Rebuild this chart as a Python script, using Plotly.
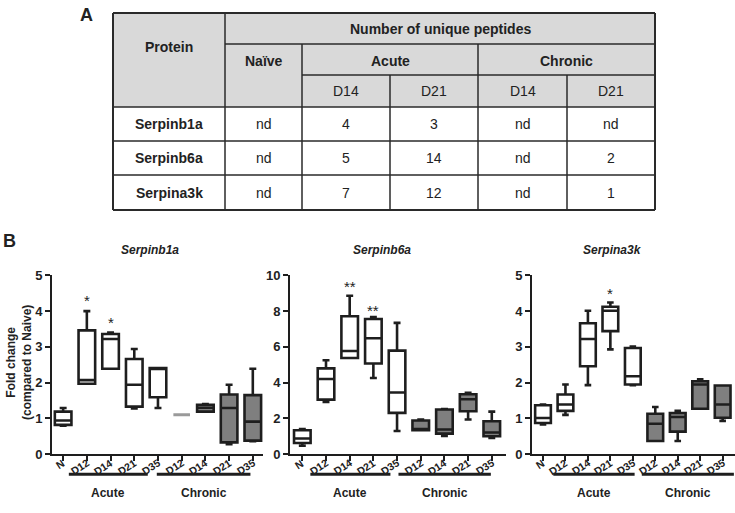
import plotly.graph_objects as go

# ---------------- DATA ----------------
# Panel A table
table_proteins = ["Serpinb1a", "Serpinb6a", "Serpina3k"]
table_naive = ["nd", "nd", "nd"]
table_acute_d14 = ["4", "5", "7"]
table_acute_d21 = ["3", "14", "12"]
table_chronic_d14 = ["nd", "nd", "nd"]
table_chronic_d21 = ["nd", "2", "1"]
table_title = "Number of unique peptides"
table_groups = ["Acute", "Chronic"]
table_days = ["D14", "D21", "D14", "D21"]

# Panel B box plots
categories = ["N", "D12", "D14", "D21", "D35", "D12", "D14", "D21", "D35"]
groups = ["naive", "acute", "acute", "acute", "acute", "chronic", "chronic", "chronic", "chronic"]
panel_titles = ["Serpinb1a", "Serpinb6a", "Serpina3k"]

serpinb1a_low = [0.80, 1.97, 2.39, 1.28, 1.29, 1.10, 1.19, 0.28, 0.36]
serpinb1a_q1 = [0.82, 1.97, 2.39, 1.33, 1.59, 1.10, 1.19, 0.33, 0.38]
serpinb1a_med = [0.94, 2.07, 3.22, 1.94, 2.41, 1.10, 1.30, 1.29, 0.91]
serpinb1a_q3 = [1.19, 3.46, 3.36, 2.66, 2.41, 1.10, 1.38, 1.67, 1.65]
serpinb1a_high = [1.29, 4.00, 3.40, 2.94, 2.41, 1.10, 1.40, 1.94, 2.39]

serpinb6a_low = [0.47, 2.92, 5.38, 4.26, 1.30, 1.34, 1.02, 1.94, 0.91]
serpinb6a_q1 = [0.63, 3.05, 5.38, 5.07, 2.31, 1.34, 1.15, 2.40, 1.00]
serpinb6a_med = [0.88, 4.20, 5.77, 6.48, 3.45, 1.40, 1.38, 3.07, 1.21]
serpinb6a_q3 = [1.34, 4.80, 7.71, 7.56, 5.79, 1.88, 2.50, 3.35, 1.84]
serpinb6a_high = [1.40, 5.25, 8.86, 7.67, 7.34, 1.94, 2.52, 3.43, 2.38]

serpina3k_low = [0.83, 1.10, 1.93, 2.93, 1.93, 0.37, 0.37, 1.27, 0.93]
serpina3k_q1 = [0.87, 1.21, 2.46, 3.44, 1.95, 0.37, 0.63, 1.27, 1.02]
serpina3k_med = [1.01, 1.39, 3.22, 4.01, 2.18, 0.85, 1.04, 1.95, 1.39]
serpina3k_q3 = [1.37, 1.67, 3.66, 4.12, 2.97, 1.13, 1.15, 2.04, 1.92]
serpina3k_high = [1.39, 1.95, 4.01, 4.24, 3.01, 1.32, 1.21, 2.09, 1.92]

# significance marks: (category index, text, y value)
serpinb1a_sig = [(1, "*", 4.30), (2, "*", 3.68)]
serpinb6a_sig = [(2, "**", 9.40), (3, "**", 8.05)]
serpina3k_sig = [(3, "*", 4.48)]

y_max = [5, 10, 5]
y_step = [1, 2, 1]
group_labels = ["Acute", "Chronic"]

# ---------------- STYLE / LAYOUT ----------------
W, H = 735, 513
FONT = "Liberation Sans, Arial, Helvetica, sans-serif"
DARK = "#1e1e1e"


def fx(p):
    return p / W


def fy(p):
    return 1 - p / H


fig = go.Figure()
shapes = []
annotations = []

# ---- Table (panel A) ----
col_edges = [113, 225, 302, 390, 478, 567, 655]
row_edges = [13, 44, 75, 107, 141, 175, 210]
LINE_C = "#2a2a2a"

shapes.append(dict(type="rect", xref="paper", yref="paper",
                   x0=fx(col_edges[0]), x1=fx(col_edges[-1]),
                   y0=fy(row_edges[0]), y1=fy(row_edges[3]),
                   fillcolor="#d9d9d9", line=dict(width=0), layer="below"))


def seg(x0, y0, x1, y1, w=1.5):
    shapes.append(dict(type="line", xref="paper", yref="paper",
                       x0=fx(x0), y0=fy(y0), x1=fx(x1), y1=fy(y1),
                       line=dict(color=LINE_C, width=w)))


# horizontal lines
seg(col_edges[0], row_edges[0], col_edges[-1], row_edges[0], 2)
seg(col_edges[1], row_edges[1], col_edges[-1], row_edges[1])
seg(col_edges[2], row_edges[2], col_edges[-1], row_edges[2])
for r in row_edges[3:6]:
    seg(col_edges[0], r, col_edges[-1], r)
seg(col_edges[0], row_edges[-1], col_edges[-1], row_edges[-1], 2)
# vertical lines
seg(col_edges[0], row_edges[0], col_edges[0], row_edges[-1], 2)
seg(col_edges[-1], row_edges[0], col_edges[-1], row_edges[-1], 2)
seg(col_edges[1], row_edges[0], col_edges[1], row_edges[-1])
seg(col_edges[2], row_edges[1], col_edges[2], row_edges[-1])
seg(col_edges[4], row_edges[1], col_edges[4], row_edges[-1])
seg(col_edges[3], row_edges[2], col_edges[3], row_edges[-1])
seg(col_edges[5], row_edges[2], col_edges[5], row_edges[-1])


def txt(x, y, text, size=14, bold=False, italic=False, **kw):
    annotations.append(dict(xref="paper", yref="paper", x=fx(x), y=fy(y),
                            text=text, showarrow=False,
                            xanchor=kw.get("xanchor", "center"),
                            yanchor=kw.get("yanchor", "middle"),
                            textangle=kw.get("textangle", 0),
                            font=dict(family=FONT, size=size, color="#222",
                                      weight="bold" if bold else "normal",
                                      style="italic" if italic else "normal")))


txt((col_edges[0] + col_edges[1]) / 2, 47, "Protein", bold=True)
txt((col_edges[1] + col_edges[2]) / 2, 61, "Naïve", bold=True)
txt((col_edges[1] + col_edges[-1]) / 2, 29, table_title, bold=True)
txt((col_edges[2] + col_edges[4]) / 2, 61, table_groups[0], bold=True)
txt((col_edges[4] + col_edges[6]) / 2, 61, table_groups[1], bold=True)
for i, d in enumerate(table_days):
    txt((col_edges[2 + i] + col_edges[3 + i]) / 2, 91, d)
table_cols = [table_naive, table_acute_d14, table_acute_d21,
              table_chronic_d14, table_chronic_d21]
for r, prot in enumerate(table_proteins):
    yc = (row_edges[3 + r] + row_edges[4 + r]) / 2
    txt((col_edges[0] + col_edges[1]) / 2, yc, prot, bold=True)
    for c, col in enumerate(table_cols):
        txt((col_edges[1 + c] + col_edges[2 + c]) / 2, yc, col[r])

txt(86, 15, "A", size=18, bold=True)
txt(9, 241, "B", size=18, bold=True)

# ---- Box plots (panel B) ----
panels = [
    (serpinb1a_low, serpinb1a_q1, serpinb1a_med, serpinb1a_q3, serpinb1a_high, serpinb1a_sig),
    (serpinb6a_low, serpinb6a_q1, serpinb6a_med, serpinb6a_q3, serpinb6a_high, serpinb6a_sig),
    (serpina3k_low, serpina3k_q1, serpina3k_med, serpina3k_q3, serpina3k_high, serpina3k_sig),
]
x_domains_px = [(52, 263), (290, 506), (532, 735)]
x_ranges = [(-0.47, 8.43), (-0.52, 8.6), (-0.49, 8.55)]
group_line_x = [[(0.24, 3.57), (3.95, 7.9)],
                [(0.34, 3.72), (4.06, 7.96)],
                [(0.46, 4.08), (4.40, 8.5)]]
title_x_px = [150, 382, 612]
y_dom = [fy(454.2), fy(275.3)]
fills = {"naive": "white", "acute": "white", "chronic": "#7f7f7f"}

layout_axes = {}
for p, (lo, q1, md, q3, hi, sig) in enumerate(panels):
    xa = "x" if p == 0 else f"x{p + 1}"
    ya = "y" if p == 0 else f"y{p + 1}"
    for i in range(len(categories)):
        flat = q1[i] == q3[i] == lo[i] == hi[i]
        fig.add_trace(go.Box(
            x=[i], q1=[q1[i]], median=[md[i]], q3=[q3[i]],
            lowerfence=[lo[i]], upperfence=[hi[i]],
            width=0.7, whiskerwidth=0.42, boxpoints=False,
            fillcolor=fills[groups[i]],
            line=dict(color="#9a9a9a" if flat else DARK, width=2.6 if not flat else 3),
            xaxis=xa, yaxis=ya, showlegend=False, hoverinfo="skip"))
    for (ci, s, yv) in sig:
        annotations.append(dict(xref=xa, yref=ya, x=ci, y=yv, text=s,
                                showarrow=False, yanchor="middle",
                                font=dict(family=FONT, size=15, color="#222")))
    # rotated category labels, drawn at the axis tick positions
    for i, cat in enumerate(categories):
        annotations.append(dict(xref=xa, yref="paper", x=i, y=fy(455),
                                text=cat, showarrow=False, textangle=-33,
                                xanchor="right", yanchor="top", xshift=5,
                                borderpad=0,
                                font=dict(family=FONT, size=10.5, color="#222",
                                          weight="bold")))
    d0, d1 = x_domains_px[p]
    ax_common = dict(showline=True, linecolor=DARK, linewidth=2,
                     ticks="outside", ticklen=5, tickwidth=2, tickcolor=DARK,
                     showgrid=False, zeroline=False, automargin=False)
    layout_axes["xaxis" if p == 0 else f"xaxis{p + 1}"] = dict(
        ax_common, domain=[fx(d0), fx(d1)], range=list(x_ranges[p]),
        tickmode="array", tickvals=list(range(len(categories))),
        showticklabels=False, anchor=ya)
    layout_axes["yaxis" if p == 0 else f"yaxis{p + 1}"] = dict(
        ax_common, domain=y_dom, range=[0, y_max[p]],
        tickmode="linear", tick0=0, dtick=y_step[p], anchor=xa,
        tickfont=dict(family=FONT, size=13, color="#222", weight="bold"))
    for (gx0, gx1), gl in zip(group_line_x[p], group_labels):
        shapes.append(dict(type="line", xref=xa, yref="paper",
                           x0=gx0, x1=gx1, y0=fy(474.3), y1=fy(474.3),
                           line=dict(color=DARK, width=3)))
        annotations.append(dict(xref=xa, yref="paper", x=(gx0 + gx1) / 2,
                                y=fy(493), text=gl, showarrow=False,
                                yanchor="middle",
                                font=dict(family=FONT, size=12, color="#222",
                                          weight="bold")))
    txt(title_x_px[p], 250, panel_titles[p], size=12, bold=True, italic=True)

txt(19, 363, "Fold change<br>(compared to Naive)", size=12, bold=True,
    textangle=-90)

fig.update_layout(
    width=W, height=H, margin=dict(l=0, r=0, t=0, b=0, autoexpand=False),
    paper_bgcolor="white", plot_bgcolor="white",
    boxmode="overlay", showlegend=False,
    shapes=shapes, annotations=annotations,
    font=dict(family=FONT, color="#222"),
    **layout_axes,
)

fig.write_html(
    "out.html",
    config={"displayModeBar": False},
    post_script="document.body.style.margin='0';document.body.style.padding='0';"
                "document.body.style.overflow='hidden';",
)
